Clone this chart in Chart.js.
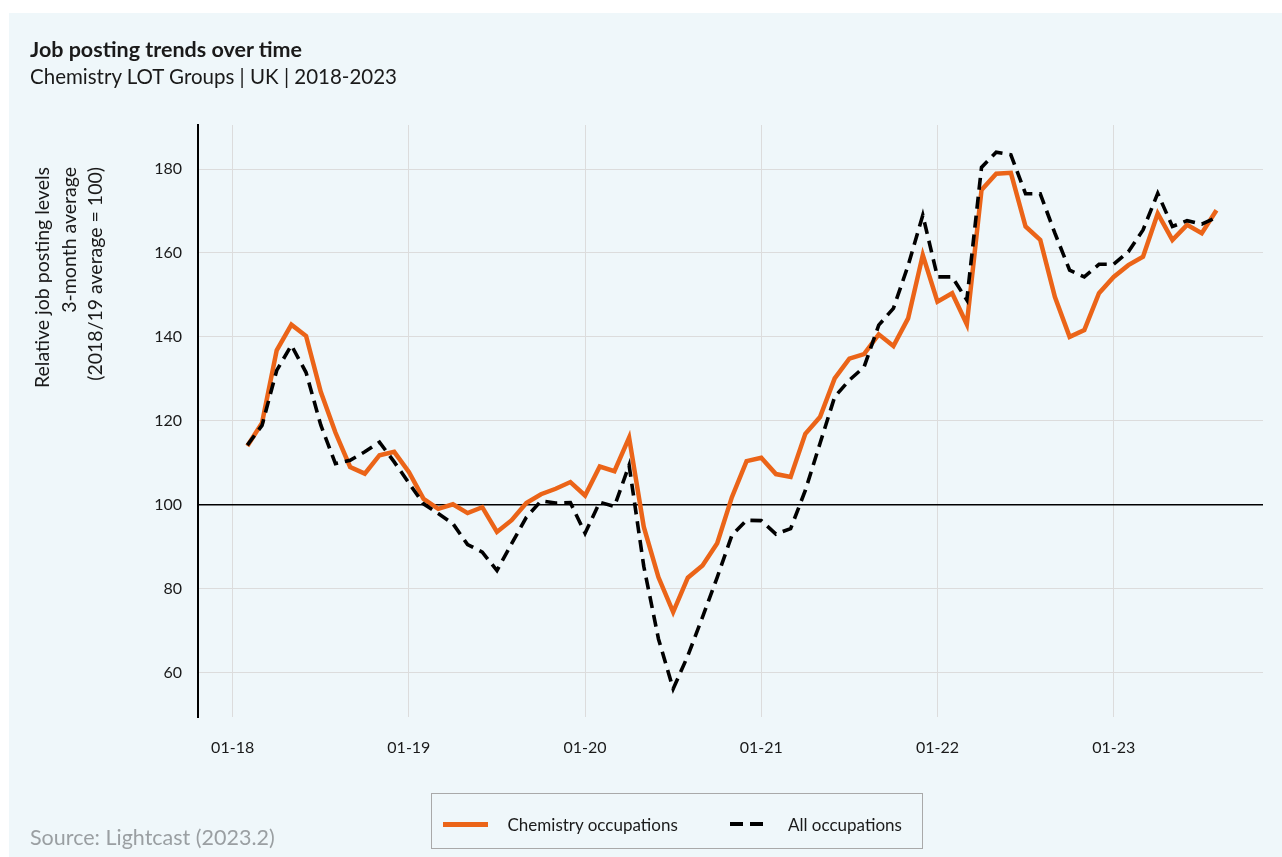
<!DOCTYPE html>
<html>
<head>
<meta charset="utf-8">
<title>Job posting trends over time</title>
<script src="https://cdn.jsdelivr.net/npm/chart.js@4.4.1/dist/chart.umd.min.js"></script>
<style>
  html, body { margin: 0; padding: 0; background: #fff; }
  body { width: 1282px; height: 857px; position: relative; overflow: hidden; font-family: Lato, 'Noto Sans', sans-serif; color: #1a1a1a; }
  #panel { position: absolute; left: 9px; top: 13px; right: 0; bottom: 0; background: #eff7fa; }
  #chart { position: absolute; left: 0; top: 0; }
  .title { position: absolute; left: 30px; top: 37px; font-size: 21.5px; line-height: 1.2; font-weight: 700; white-space: nowrap; }
  .subtitle { position: absolute; left: 30px; top: 64px; font-size: 20.5px; line-height: 1.2; white-space: nowrap; }
  .ytitle { position: absolute; left: 29px; top: 427px; width: 260px; font-size: 19.5px; line-height: 26.5px; text-align: right; white-space: nowrap; transform-origin: top left; transform: rotate(-90deg); }
  .source { position: absolute; left: 30px; top: 825px; font-size: 21.5px; line-height: 1.2; color: #9a9fa2; white-space: nowrap; }
  #legend { position: absolute; left: 431px; top: 793px; width: 492px; height: 56px; box-sizing: border-box; border: 1.5px solid #a9a9a9; }
  #legend .item { position: absolute; top: 3px; height: 100%; display: flex; align-items: center; font-size: 17px; white-space: nowrap; }
  #legend .swatch { margin-right: 20px; }
</style>
</head>
<body>
<div id="panel"></div>
<canvas id="chart" width="1282" height="857"></canvas>
<div class="title">Job posting trends over time</div>
<div class="subtitle">Chemistry LOT Groups | UK | 2018-2023</div>
<div class="ytitle">Relative job posting levels<br>3-month average<br>(2018/19 average = 100)</div>
<div class="source">Source: Lightcast (2023.2)</div>
<div id="legend"></div>
<script>
// months (MM-YY), Feb 2018 to Aug 2023
var months = [
    '02-18', '03-18', '04-18', '05-18', '06-18', '07-18', '08-18', '09-18', '10-18', '11-18', '12-18',
    '01-19', '02-19', '03-19', '04-19', '05-19', '06-19', '07-19', '08-19', '09-19', '10-19', '11-19', '12-19',
    '01-20', '02-20', '03-20', '04-20', '05-20', '06-20', '07-20', '08-20', '09-20', '10-20', '11-20', '12-20',
    '01-21', '02-21', '03-21', '04-21', '05-21', '06-21', '07-21', '08-21', '09-21', '10-21', '11-21', '12-21',
    '01-22', '02-22', '03-22', '04-22', '05-22', '06-22', '07-22', '08-22', '09-22', '10-22', '11-22', '12-22',
    '01-23', '02-23', '03-23', '04-23', '05-23', '06-23', '07-23', '08-23'
];

var chemistry = [
    114.0, 119.5, 136.8, 142.9, 140.2, 126.9, 117.2, 109.0, 107.4, 111.8, 112.6,
    107.8, 101.4, 99.0, 100.1, 98.0, 99.4, 93.5, 96.3, 100.4, 102.5, 103.8, 105.4,
    102.2, 109.1, 108.0, 116.0, 94.7, 82.7, 74.4, 82.6, 85.5, 90.8, 101.8, 110.4,
    111.2, 107.3, 106.6, 116.9, 120.9, 130.1, 134.8, 135.9, 140.6, 137.8, 144.4, 159.5,
    148.4, 150.4, 143.0, 175.0, 178.9, 179.1, 166.3, 163.1, 149.5, 140.0, 141.6, 150.4,
    154.3, 157.1, 159.1, 169.4, 163.1, 166.7, 164.7, 170.2
];

var allOccupations = [
    114.2, 118.9, 132.0, 138.0, 131.5, 119.0, 109.8, 110.6, 112.6, 114.9, 110.2,
    105.2, 100.2, 97.9, 95.5, 90.5, 88.7, 84.3, 90.7, 97.0, 100.9, 100.4, 100.5,
    93.2, 100.6, 99.6, 109.4, 85.3, 68.0, 56.1, 64.0, 73.2, 82.7, 92.7, 96.3,
    96.2, 93.0, 94.3, 103.4, 114.6, 125.7, 129.7, 132.8, 142.8, 146.8, 157.0, 169.0,
    154.3, 154.3, 148.8, 180.4, 184.0, 183.4, 174.1, 174.1, 164.7, 155.9, 154.3, 157.3,
    157.3, 160.3, 165.5, 174.2, 166.3, 167.7, 166.9, 168.5
];

var xTickLabels = ['01-18', '01-19', '01-20', '01-21', '01-22', '01-23'];
var yTickValues = [60, 80, 100, 120, 140, 160, 180];

// months since Jan 2018
function monthIndex(label) {
    var p = label.split('-');
    return (Number(p[1]) - 18) * 12 + (Number(p[0]) - 1);
}

function toPoints(values) {
    return values.map(function (v, i) { return { x: monthIndex(months[i]), y: v }; });
}

Chart.defaults.font.family = 'Lato, "Noto Sans", sans-serif';
Chart.defaults.color = '#1a1a1a';

var gridColor = '#dcdcdc';

var chart = new Chart(document.getElementById('chart').getContext('2d'), {
    type: 'line',
    data: {
        datasets: [{
            label: 'Chemistry occupations',
            data: toPoints(chemistry),
            borderColor: '#eb6418',
            backgroundColor: '#eb6418',
            borderWidth: 4.5,
            pointRadius: 0,
            tension: 0,
            order: 2
        }, {
            label: 'All occupations',
            data: toPoints(allOccupations),
            borderColor: '#000',
            backgroundColor: '#000',
            borderWidth: 3.6,
            borderDash: [12, 7],
            pointRadius: 0,
            tension: 0,
            order: 1
        }]
    },
    options: {
        responsive: false,
        animation: false,
        events: [],
        layout: { padding: { left: 0, right: 19, top: 125, bottom: 80 } },
        plugins: {
            legend: { display: false },
            tooltip: { enabled: false }
        },
        scales: {
            x: {
                type: 'linear',
                min: -2.36,
                max: 70.17,
                afterBuildTicks: function (scale) {
                    scale.ticks = xTickLabels.map(function (l) { return { value: monthIndex(l) }; });
                },
                afterFit: function (scale) { scale.height = 60; },
                ticks: {
                    autoSkip: false,
                    maxRotation: 0,
                    padding: 21,
                    font: { size: 16 },
                    callback: function (value) {
                        var i = xTickLabels.map(monthIndex).indexOf(value);
                        return i >= 0 ? xTickLabels[i] : '';
                    }
                },
                grid: { color: gridColor, lineWidth: 1, drawTicks: false },
                border: { display: false }
            },
            y: {
                min: 49.4,
                max: 190.5,
                afterBuildTicks: function (scale) {
                    scale.ticks = yTickValues.map(function (v) { return { value: v }; });
                },
                afterFit: function (scale) { scale.width = 198; },
                ticks: { padding: 16, font: { size: 16 } },
                grid: {
                    drawTicks: false,
                    color: function (c) { return c.tick && c.tick.value === 100 ? '#000' : gridColor; },
                    lineWidth: function (c) { return c.tick && c.tick.value === 100 ? 1.6 : 1; }
                },
                border: { display: true, color: '#000', width: 2 }
            }
        }
    }
});

// html legend built from the datasets
var legendX = [10.5, 298];
var legend = document.getElementById('legend');
chart.data.datasets.forEach(function (ds, i) {
    var item = document.createElement('div');
    item.className = 'item';
    item.style.left = legendX[i] + 'px';
    var sw = document.createElement('span');
    sw.className = 'swatch';
    sw.style.display = 'inline-block';
    sw.style.height = '5px';
    if (ds.borderDash) {
        var d = ds.borderDash;
        sw.style.width = (2 * d[0] + d[1] + 2) + 'px';
        sw.style.height = '4px';
        sw.style.marginRight = '25px';
        sw.style.background = 'repeating-linear-gradient(to right, ' + ds.borderColor + ' 0 ' + (d[0] + 1) + 'px, transparent ' + (d[0] + 1) + 'px ' + (d[0] + d[1] + 1) + 'px)';
    } else {
        sw.style.width = '45px';
        sw.style.background = ds.borderColor;
    }
    item.appendChild(sw);
    var tx = document.createElement('span');
    tx.textContent = ds.label;
    item.appendChild(tx);
    legend.appendChild(item);
});
</script>
</body>
</html>
